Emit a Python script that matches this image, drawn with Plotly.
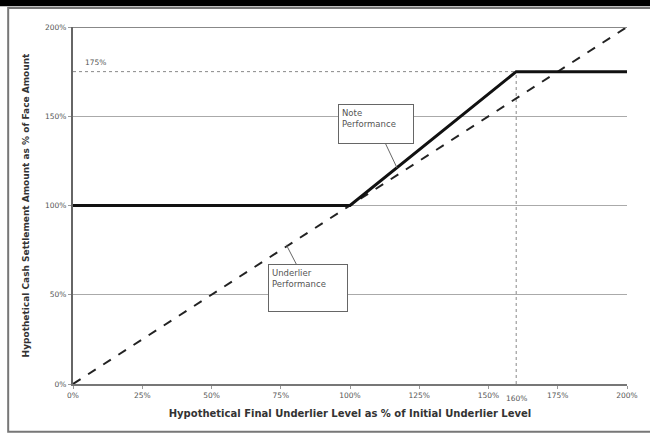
import plotly.graph_objects as go

# Data
note_x = [0, 100, 160, 200]
note_y = [100, 100, 175, 175]
under_x = [0, 200]
under_y = [0, 200]
cap_level = 175
cap_x = 160
x_ticks = [0, 25, 50, 75, 100, 125, 150, 175, 200]
x_tick_labels = ["0%", "25%", "50%", "75%", "100%", "125%", "150%", "175%", "200%"]
y_ticks = [0, 50, 100, 150, 200]
y_tick_labels = ["0%", "50%", "100%", "150%", "200%"]

FONT = "DejaVu Sans, Liberation Sans, sans-serif"

fig = go.Figure()

# reference dotted lines
fig.add_trace(go.Scatter(x=[0, cap_x], y=[cap_level, cap_level], mode="lines",
                         line=dict(color="#888888", width=1, dash="dot"),
                         hoverinfo="skip", showlegend=False))
fig.add_trace(go.Scatter(x=[cap_x, cap_x], y=[0, cap_level], mode="lines",
                         line=dict(color="#888888", width=1, dash="dot"),
                         hoverinfo="skip", showlegend=False))

fig.add_trace(go.Scatter(x=under_x, y=under_y, mode="lines",
                         line=dict(color="#222222", width=2, dash="dash"),
                         name="Underlier Performance", showlegend=False))
fig.add_trace(go.Scatter(x=note_x, y=note_y, mode="lines",
                         line=dict(color="#111111", width=3),
                         name="Note Performance", showlegend=False))

fig.update_xaxes(range=[0, 200], tickvals=x_ticks, ticktext=x_tick_labels,
                 showgrid=False, zeroline=False, showline=True,
                 linecolor="#777777", linewidth=2, ticks="outside",
                 ticklen=3, tickcolor="#999999",
                 tickfont=dict(family=FONT, size=7.5, color="#555555"),
                 title=dict(text="<b>Hypothetical Final Underlier Level as % of Initial Underlier Level</b>",
                            font=dict(family=FONT, size=10, color="#333333"), standoff=11),
                 fixedrange=True)
fig.update_yaxes(range=[0, 200], tickvals=y_ticks, ticktext=y_tick_labels,
                 showgrid=True, gridcolor="#aaaaaa", gridwidth=1, zeroline=False,
                 showline=True, linecolor="#666666", linewidth=2, ticks="outside",
                 ticklen=3, tickcolor="#999999",
                 tickfont=dict(family=FONT, size=7.5, color="#555555"),
                 title=dict(text="<b>Hypothetical Cash Settlement Amount as % of Face Amount</b>",
                            font=dict(family=FONT, size=9, color="#333333"), standoff=14),
                 fixedrange=True)

annotations = [
    dict(x=8, y=cap_level, xref="x", yref="y", text="175%", showarrow=False,
         yanchor="bottom", yshift=3, font=dict(family=FONT, size=7.5, color="#555555")),
    dict(x=cap_x, y=0, xref="x", yref="y", text="160%", showarrow=False,
         yanchor="top", yshift=-8, font=dict(family=FONT, size=7.5, color="#555555")),
    dict(x=117, y=121, xref="x", yref="y", ax=109.5, ay=145.5, axref="x", ayref="y",
         text="Note<br>Performance", align="left", valign="top", showarrow=True, arrowhead=0,
         arrowwidth=1, arrowcolor="#666666", bordercolor="#666666", borderwidth=1,
         borderpad=3, bgcolor="white", width=68, height=32,
         font=dict(family=FONT, size=8.5, color="#555555")),
    dict(x=77, y=78, xref="x", yref="y", ax=85, ay=54, axref="x", ayref="y",
         text="Underlier<br>Performance", align="left", valign="top", showarrow=True, arrowhead=0,
         arrowwidth=1, arrowcolor="#666666", bordercolor="#666666", borderwidth=1,
         borderpad=3, bgcolor="white", width=72, height=40,
         font=dict(family=FONT, size=8.5, color="#555555")),
]

shapes = [
    # top gridline emphasis
    dict(type="line", xref="x", yref="y", x0=0, x1=200, y0=200, y1=200,
         line=dict(color="#888888", width=2)),
    # outer frame
    dict(type="rect", xref="paper", yref="paper", x0=-0.117, x1=1.05, y0=-0.134, y1=1.053,
         line=dict(color="#777777", width=2), layer="below"),
    # top black bar
    dict(type="rect", xref="paper", yref="paper", x0=-0.2, x1=1.1, y0=1.058, y1=1.2,
         fillcolor="black", line=dict(width=0)),
]

fig.update_layout(width=650, height=437, margin=dict(l=73, r=21, t=27, b=53),
                  paper_bgcolor="white", plot_bgcolor="white",
                  annotations=annotations, shapes=shapes,
                  font=dict(family=FONT))

fig.write_html("out.html", config={"displayModeBar": False},
               post_script="document.body.style.margin='0px';")
